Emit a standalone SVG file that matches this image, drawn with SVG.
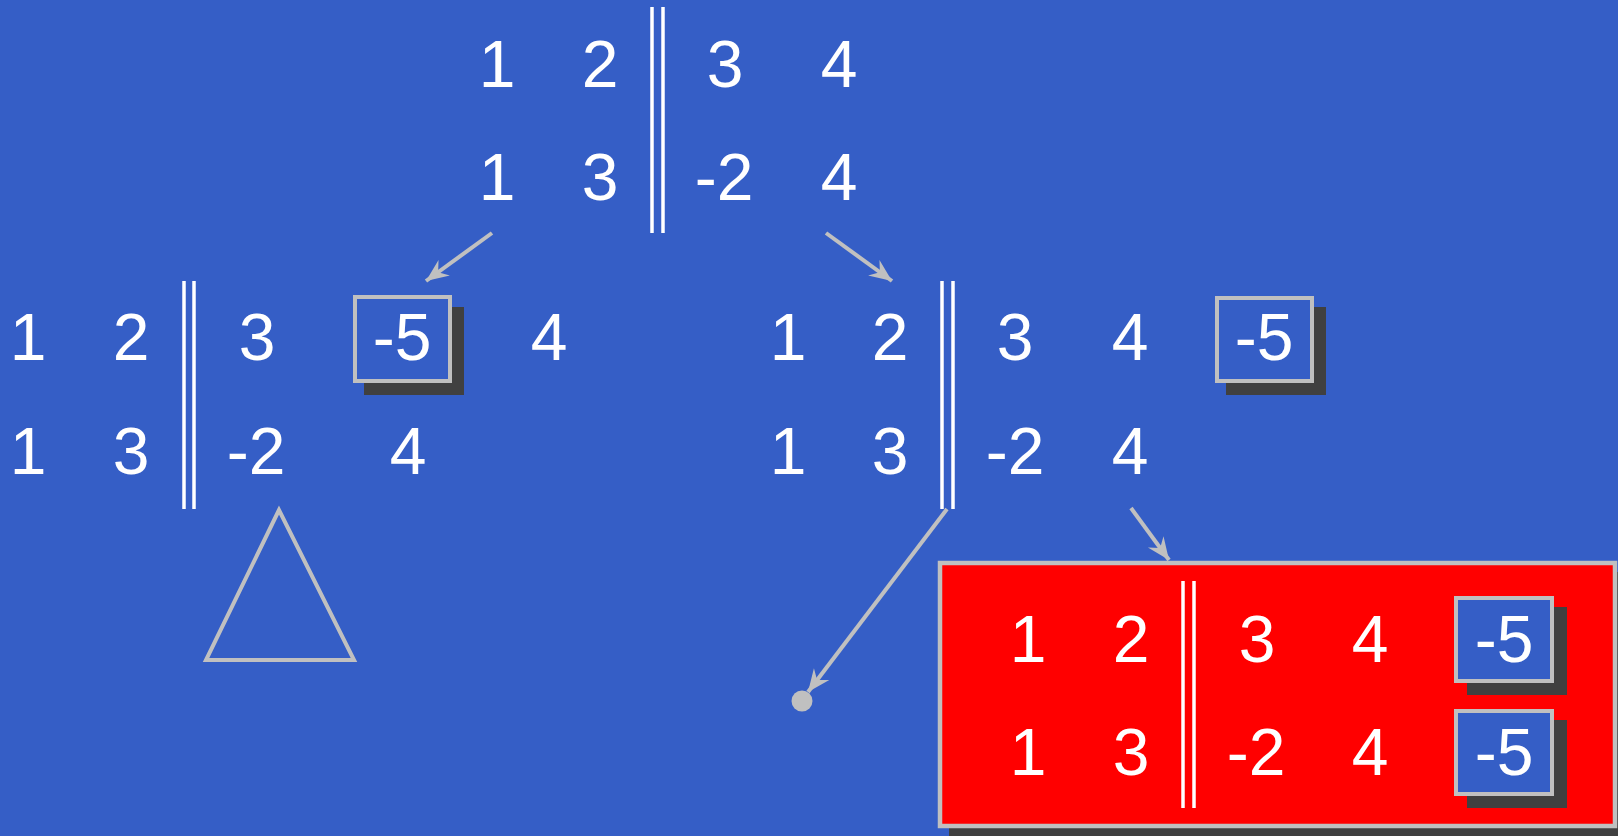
<svg xmlns="http://www.w3.org/2000/svg" width="1618" height="836" viewBox="0 0 1618 836">
<style>
.t{font-family:"Liberation Sans",Arial,sans-serif;font-size:66px;fill:#ffffff;text-anchor:middle}
.bar{stroke:#ffffff;stroke-width:3.5}
.box{fill:#355EC6;stroke:#c0c0c0;stroke-width:4}
.sh{fill:#404040}
.conn{stroke:#c0c0c0;stroke-width:4;fill:none;marker-end:url(#ah)}
</style>
<defs>
<marker id="ah" markerUnits="userSpaceOnUse" markerWidth="30" markerHeight="30" refX="0" refY="0" viewBox="-24 -12 28 24" orient="auto">
<path d="M0,0 L-21,-9 L-14,0 L-21,9 Z" fill="#c0c0c0"/>
</marker>
</defs>
<rect width="1618" height="836" fill="#355EC6"/>

<g id="node-top">
<line class="bar" x1="652" y1="7" x2="652" y2="233"/>
<line class="bar" x1="663" y1="7" x2="663" y2="233"/>
<text class="t" x="497" y="87">1</text>
<text class="t" x="600" y="87">2</text>
<text class="t" x="725" y="87">3</text>
<text class="t" x="839" y="87">4</text>
<text class="t" x="497" y="200">1</text>
<text class="t" x="600" y="200">3</text>
<text class="t" x="724" y="200">-2</text>
<text class="t" x="839" y="200">4</text>
</g>

<g id="node-left">
<line class="bar" x1="184" y1="281" x2="184" y2="509"/>
<line class="bar" x1="194" y1="281" x2="194" y2="509"/>
<rect class="sh" x="364" y="307" width="100" height="88"/>
<rect class="box" x="355" y="297" width="95" height="84"/>
<text class="t" x="28" y="360">1</text>
<text class="t" x="131" y="360">2</text>
<text class="t" x="257" y="360">3</text>
<text class="t" x="402" y="360">-5</text>
<text class="t" x="549" y="360">4</text>
<text class="t" x="28" y="474">1</text>
<text class="t" x="131" y="474">3</text>
<text class="t" x="256" y="474">-2</text>
<text class="t" x="408" y="474">4</text>
</g>

<g id="node-triangle">
<polygon points="279,510 206,660 354,660" fill="none" stroke="#c0c0c0" stroke-width="4"/>
</g>

<g id="node-middle">
<line class="bar" x1="942" y1="281" x2="942" y2="509"/>
<line class="bar" x1="953" y1="281" x2="953" y2="509"/>
<rect class="sh" x="1226" y="307" width="100" height="88"/>
<rect class="box" x="1217" y="298" width="95" height="83"/>
<text class="t" x="788" y="360">1</text>
<text class="t" x="890" y="360">2</text>
<text class="t" x="1015" y="360">3</text>
<text class="t" x="1130" y="360">4</text>
<text class="t" x="1264" y="360">-5</text>
<text class="t" x="788" y="474">1</text>
<text class="t" x="890" y="474">3</text>
<text class="t" x="1015" y="474">-2</text>
<text class="t" x="1130" y="474">4</text>
</g>

<g id="node-dot">
<circle cx="802" cy="701" r="10.5" fill="#c0c0c0"/>
</g>

<g id="node-red">
<rect class="sh" x="949" y="572" width="680" height="270"/>
<rect x="940" y="563" width="675" height="263" fill="#ff0000" stroke="#c0c0c0" stroke-width="4.5"/>
<line class="bar" x1="1183" y1="581" x2="1183" y2="808"/>
<line class="bar" x1="1194" y1="581" x2="1194" y2="808"/>
<rect class="sh" x="1467" y="607" width="100" height="88"/>
<rect class="box" x="1456" y="598" width="96" height="83"/>
<rect class="sh" x="1467" y="720" width="100" height="88"/>
<rect class="box" x="1456" y="711" width="96" height="83"/>
<text class="t" x="1028" y="662">1</text>
<text class="t" x="1131" y="662">2</text>
<text class="t" x="1257" y="662">3</text>
<text class="t" x="1370" y="662">4</text>
<text class="t" x="1504" y="662">-5</text>
<text class="t" x="1028" y="775">1</text>
<text class="t" x="1131" y="775">3</text>
<text class="t" x="1256" y="775">-2</text>
<text class="t" x="1370" y="775">4</text>
<text class="t" x="1504" y="775">-5</text>
</g>

<g id="connectors">
<line class="conn" x1="492" y1="233" x2="426" y2="281"/>
<line class="conn" x1="826" y1="233" x2="892" y2="281"/>
<line class="conn" x1="947" y1="509" x2="808" y2="692"/>
<line class="conn" x1="1131" y1="508" x2="1169" y2="560"/>
</g>
</svg>
